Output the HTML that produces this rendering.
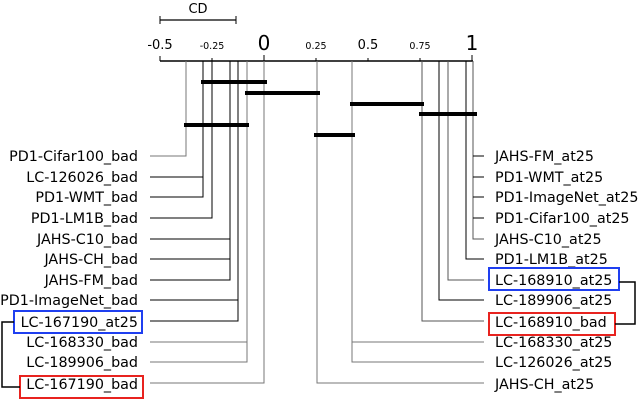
<!DOCTYPE html>
<html><head><style>body{margin:0;background:#fff}svg{display:block}text{font-family:"DejaVu Sans","Liberation Sans",sans-serif;fill:#000}</style></head>
<body>
<svg width="640" height="400" viewBox="0 0 640 400" xmlns="http://www.w3.org/2000/svg">
<line x1="160" y1="20" x2="236" y2="20" stroke="#000" stroke-width="1.2"/>
<line x1="160" y1="16" x2="160" y2="24" stroke="#000"/>
<line x1="236" y1="16" x2="236" y2="24" stroke="#000"/>
<text x="198" y="13" font-size="13" text-anchor="middle">CD</text>
<line x1="160" y1="61" x2="473" y2="61" stroke="#000" stroke-width="1.5"/>
<g stroke="#000" stroke-width="1">
<line x1="160" y1="56" x2="160" y2="61"/><line x1="212" y1="58" x2="212" y2="61"/><line x1="264" y1="55" x2="264" y2="61"/><line x1="316" y1="58" x2="316" y2="61"/><line x1="368" y1="58" x2="368" y2="61"/><line x1="420" y1="58" x2="420" y2="61"/><line x1="472" y1="55" x2="472" y2="61"/>
</g>
<text x="160" y="49" font-size="13" text-anchor="middle">-0.5</text>
<text x="212" y="49" font-size="9.5" text-anchor="middle">-0.25</text>
<text x="264" y="50" font-size="20" text-anchor="middle">0</text>
<text x="316" y="49" font-size="9.5" text-anchor="middle">0.25</text>
<text x="368" y="49" font-size="13" text-anchor="middle">0.5</text>
<text x="420" y="49" font-size="9.5" text-anchor="middle">0.75</text>
<text x="472" y="50" font-size="20" text-anchor="middle">1</text>

<g fill="none" stroke-width="1">
<polyline points="186,61 186,156 150,156" stroke="#777"/>
<polyline points="203,61 203,197 150,197" stroke="#000"/><line x1="150" y1="177" x2="203" y2="177" stroke="#000"/>
<polyline points="212,61 212,218 150,218" stroke="#000"/>
<polyline points="230,61 230,280 150,280" stroke="#000"/><line x1="150" y1="239" x2="230" y2="239" stroke="#000"/><line x1="150" y1="259" x2="230" y2="259" stroke="#000"/>
<polyline points="238,61 238,321 150,321" stroke="#000"/><line x1="150" y1="300" x2="238" y2="300" stroke="#000"/>
<polyline points="247,61 247,362 150,362" stroke="#777"/><line x1="150" y1="342" x2="247" y2="342" stroke="#777"/>
<polyline points="264,61 264,383 150,383" stroke="#777"/>

<polyline points="317,61 317,383 484,383" stroke="#777"/>
<polyline points="352,61 352,362 484,362" stroke="#777"/><line x1="352" y1="342" x2="484" y2="342" stroke="#777"/>
<polyline points="422,61 422,321 484,321" stroke="#555"/>
<polyline points="439,61 439,300 484,300" stroke="#000"/>
<polyline points="448,61 448,280 484,280" stroke="#555"/>
<polyline points="466,61 466,259 484,259" stroke="#000"/>
<polyline points="473,61 473,239 484,239" stroke="#555"/>
<line x1="473" y1="156" x2="484" y2="156" stroke="#000"/><line x1="473" y1="177" x2="484" y2="177" stroke="#000"/><line x1="473" y1="197" x2="484" y2="197" stroke="#000"/><line x1="473" y1="218" x2="484" y2="218" stroke="#000"/>
</g>

<g stroke="#000" stroke-width="4">
<line x1="201" y1="82" x2="267" y2="82"/>
<line x1="245" y1="93" x2="320" y2="93"/>
<line x1="350" y1="104" x2="424" y2="104"/>
<line x1="419" y1="114" x2="477" y2="114"/>
<line x1="184" y1="125" x2="249" y2="125"/>
<line x1="314" y1="135" x2="355" y2="135"/>
</g>

<g font-size="14.3" text-anchor="end">
<text x="138" y="161">PD1-Cifar100_bad</text>
<text x="138" y="182">LC-126026_bad</text>
<text x="138" y="202">PD1-WMT_bad</text>
<text x="138" y="223">PD1-LM1B_bad</text>
<text x="138" y="244">JAHS-C10_bad</text>
<text x="138" y="264">JAHS-CH_bad</text>
<text x="138" y="285">JAHS-FM_bad</text>
<text x="138" y="305">PD1-ImageNet_bad</text>
<text x="138" y="327">LC-167190_at25</text>
<text x="138" y="347">LC-168330_bad</text>
<text x="138" y="367">LC-189906_bad</text>
<text x="138" y="389">LC-167190_bad</text>
</g>
<g font-size="14.3">
<text x="495" y="161">JAHS-FM_at25</text>
<text x="495" y="182">PD1-WMT_at25</text>
<text x="495" y="202">PD1-ImageNet_at25</text>
<text x="495" y="223">PD1-Cifar100_at25</text>
<text x="495" y="244">JAHS-C10_at25</text>
<text x="495" y="264">PD1-LM1B_at25</text>
<text x="495" y="285">LC-168910_at25</text>
<text x="495" y="305">LC-189906_at25</text>
<text x="495" y="327">LC-168910_bad</text>
<text x="495" y="347">LC-168330_at25</text>
<text x="495" y="367">LC-126026_at25</text>
<text x="495" y="389">JAHS-CH_at25</text>
</g>

<g fill="none" stroke-width="2">
<rect x="14" y="311" width="128" height="22" stroke="#1f3ff0"/>
<rect x="20" y="376" width="123" height="22" stroke="#e8231f"/>
<rect x="489" y="268" width="130" height="22" stroke="#1f3ff0"/>
<rect x="489" y="313" width="126" height="22" stroke="#e8231f"/>
</g>
<g fill="none" stroke="#000" stroke-width="1.5">
<polyline points="14,322 2,322 2,387 20,387"/>
<polyline points="619,282 635,282 635,324 615,324"/>
</g>
</svg>
</body></html>
